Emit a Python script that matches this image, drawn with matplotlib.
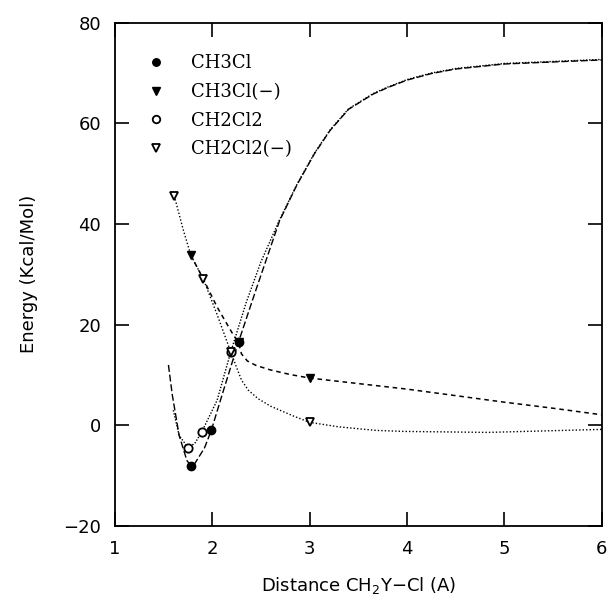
import numpy as np
import matplotlib
matplotlib.use("Agg")
import matplotlib.pyplot as plt

# marker points
ch3cl_x = [1.78, 1.99, 2.27]
ch3cl_y = [-8.0, -1.0, 16.6]
ch3clm_x = [1.78, 2.27, 3.0]
ch3clm_y = [33.8, 16.6, 9.4]
ch2cl2_x = [1.75, 1.89, 2.19]
ch2cl2_y = [-4.4, -1.4, 14.6]
ch2cl2m_x = [1.61, 1.91, 2.19, 3.0]
ch2cl2m_y = [45.6, 29.0, 14.6, 0.6]

# fitted curves
c_ch3cl_x = [1.55, 1.59, 1.66, 1.74, 1.78, 1.82, 1.92, 1.99, 2.10, 2.27, 2.45, 2.69, 2.87,
             3.05, 3.21, 3.40, 3.65, 3.80, 4.0, 4.25, 4.5, 5.0, 6.0]
c_ch3cl_y = [12.0, 6.0, -2.0, -7.0, -8.0, -7.6, -4.5, -1.0, 6.0, 16.6, 27.0, 40.6, 47.8,
             54.0, 58.6, 62.8, 65.8, 67.1, 68.6, 69.9, 70.8, 71.8, 72.6]
c_ch2cl2_x = [1.60, 1.66, 1.75, 1.82, 1.89, 2.05, 2.19, 2.35, 2.50, 2.69, 2.87,
              3.05, 3.21, 3.40, 3.65, 3.80, 4.0, 4.25, 4.5, 5.0, 6.0]
c_ch2cl2_y = [3.0, -2.0, -4.4, -3.6, -1.4, 5.0, 14.6, 24.5, 32.5, 40.8, 47.9,
              54.1, 58.7, 62.9, 65.9, 67.2, 68.7, 70.0, 70.9, 71.9, 72.7]
c_ch3clm_x = [1.78, 1.91, 2.05, 2.20, 2.27, 2.30, 2.36, 2.45, 2.60, 2.80, 3.0, 3.5, 4.0, 4.5, 5.0, 5.5, 6.0]
c_ch3clm_y = [33.8, 29.0, 23.5, 18.5, 16.4, 14.2, 12.8, 11.9, 11.0, 10.1, 9.4, 8.3, 7.2, 5.9, 4.6, 3.4, 2.1]
c_ch2cl2m_x = [1.61, 1.70, 1.78, 1.91, 2.05, 2.19, 2.25, 2.30, 2.37, 2.47, 2.60, 2.84, 3.0, 3.3,
               3.68, 3.96, 4.83, 6.0]
c_ch2cl2m_y = [45.6, 39.0, 33.8, 29.0, 22.0, 14.6, 11.5, 9.0, 7.0, 5.3, 3.8, 1.8, 0.6, -0.3,
               -1.0, -1.2, -1.4, -0.8]

plt.rcParams["font.family"] = "DejaVu Sans"
fig = plt.figure(figsize=(6.11, 6.07), dpi=100)
ax = fig.add_axes([0.188, 0.1334, 0.797, 0.8292])

ax.plot(c_ch3cl_x, c_ch3cl_y, color="black", lw=1.0, dashes=(5, 2))
ax.plot(c_ch2cl2_x, c_ch2cl2_y, color="black", lw=1.0, dashes=(1, 1.2))
ax.plot(c_ch3clm_x, c_ch3clm_y, color="black", lw=1.1, dashes=(3, 2.5))
ax.plot(c_ch2cl2m_x, c_ch2cl2m_y, color="black", lw=1.0, dashes=(1, 1.5))

ax.plot(ch3cl_x, ch3cl_y, "o", color="black", ms=6, ls="none", label="CH3Cl")
ax.plot(ch3clm_x, ch3clm_y, "v", color="black", ms=6, ls="none", label="CH3Cl(\u2212)")
ax.plot(ch2cl2_x, ch2cl2_y, "o", mfc="white", mec="black", mew=1.3, ms=6, ls="none", label="CH2Cl2")
ax.plot(ch2cl2m_x, ch2cl2m_y, "v", mfc="white", mec="black", mew=1.3, ms=6, ls="none", label="CH2Cl2(\u2212)")

ax.set_xlim(1, 6)
ax.set_ylim(-20, 80)
ax.set_xticks([1, 2, 3, 4, 5, 6])
ax.set_yticks([-20, 0, 20, 40, 60, 80])
ax.set_yticklabels(["\u221220", "0", "20", "40", "60", "80"])
ax.tick_params(direction="in", length=10, width=1.2, top=True, right=True,
               labelsize=13, pad=10)
for s in ax.spines.values():
    s.set_linewidth(1.3)

ax.set_xlabel("Distance CH$_2$Y\u2212Cl (A)", fontsize=13, labelpad=12)
ax.set_ylabel("Energy (Kcal/Mol)", fontsize=13, labelpad=18)

leg = ax.legend(loc="upper left", frameon=False, handletextpad=0.9,
                prop={"family": "DejaVu Serif", "size": 13},
                bbox_to_anchor=(0.015, 0.97), labelspacing=0.6, markerscale=0.9)

fig.savefig("out.png", dpi=100)
